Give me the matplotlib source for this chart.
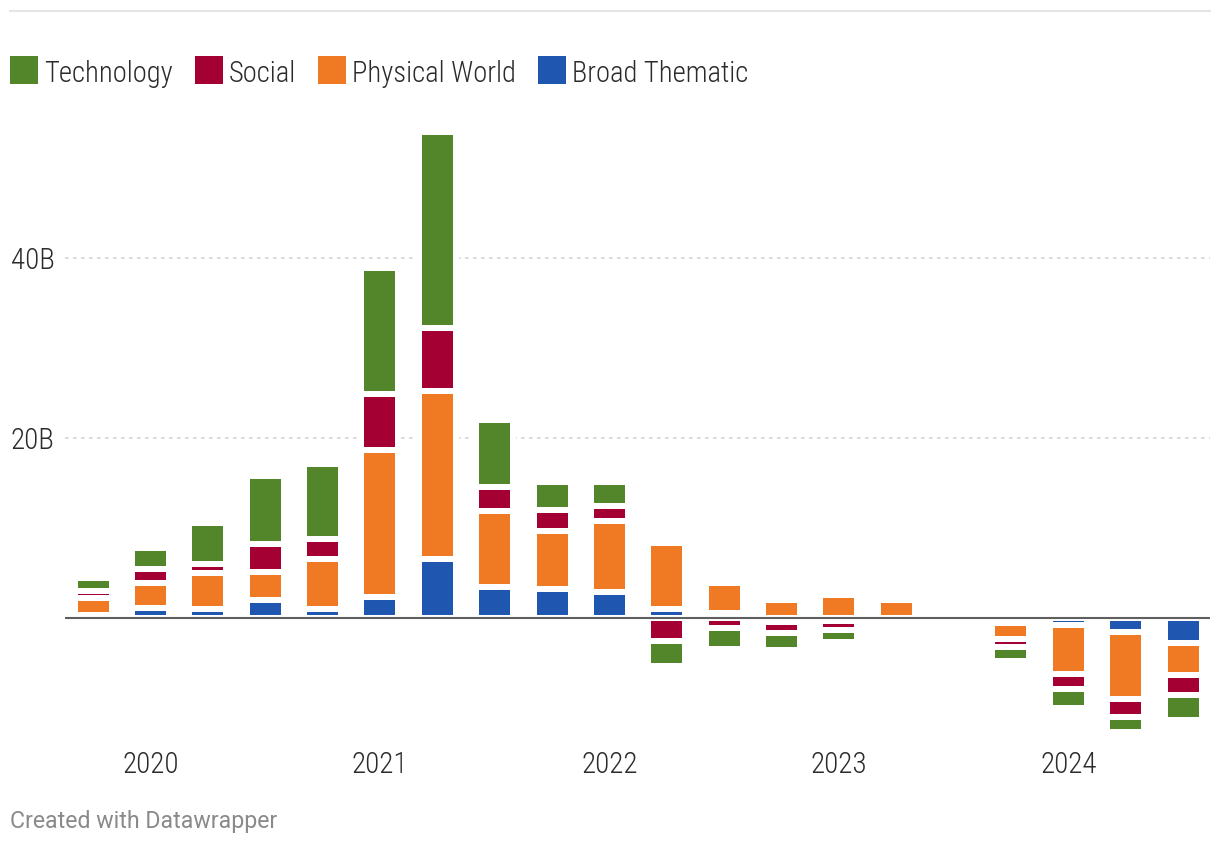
import numpy as np
import matplotlib
matplotlib.use("Agg")
import matplotlib.pyplot as plt
from matplotlib import font_manager
from matplotlib.font_manager import FontProperties
from matplotlib.patches import Rectangle
from matplotlib.lines import Line2D
import matplotlib.transforms as mtransforms

# ---------------- data (billions USD, net flows per quarter) ----------------
quarters = ["2019Q4",
            "2020Q1", "2020Q2", "2020Q3", "2020Q4",
            "2021Q1", "2021Q2", "2021Q3", "2021Q4",
            "2022Q1", "2022Q2", "2022Q3", "2022Q4",
            "2023Q1", "2023Q2", "2023Q3", "2023Q4",
            "2024Q1", "2024Q2", "2024Q3"]
technology = [1.44, 2.33, 4.56, 7.56, 8.33, 14.0, 21.78, 7.44, 3.11, 2.67,
              -2.78, -2.33, -1.89, -1.33, 0.0, 0.0, -1.56, -2.11, -1.67, -2.78]
social = [0.78, 1.56, 1.0, 3.11, 2.22, 6.22, 7.0, 2.67, 2.33, 1.67,
          -2.56, -1.11, -1.22, -1.0, 0.0, 0.0, -0.89, -1.67, -2.0, -2.22]
physical_world = [1.89, 2.78, 4.0, 3.11, 5.56, 16.33, 18.67, 8.44, 6.44, 7.89,
                  7.33, 3.33, 2.0, 2.56, 2.0, 0.0, -1.78, -5.44, -7.44, -3.56]
broad_thematic = [0.33, 1.11, 1.0, 2.0, 1.0, 2.33, 6.56, 3.44, 3.22, 2.89,
                  1.0, 0.56, -0.44, -0.33, 0.0, 0.0, -0.56, -0.78, -1.56, -2.78]

legend_names = ["Technology", "Social", "Physical World", "Broad Thematic"]
stack_order = ["Broad Thematic", "Physical World", "Social", "Technology"]
series = {"Technology": technology, "Social": social,
          "Physical World": physical_world, "Broad Thematic": broad_thematic}
colors = {"Technology": "#53862a", "Social": "#a50034",
          "Physical World": "#f07923", "Broad Thematic": "#1f56b0"}
y_ticks = [20, 40]
y_tick_labels = ["20B", "40B"]
year_labels = ["2020", "2021", "2022", "2023", "2024"]

# ---------------- fonts: look for a condensed (preferably light) face --------
def find_condensed():
    prefs = ["roboto", "liberation", "open", "noto", "dejavu", "lato", "inter"]
    cands = []
    for f in font_manager.fontManager.ttflist:
        fn = f.fname.lower().split("/")[-1]
        nm = f.name.lower()
        stretch = str(f.stretch).lower()
        is_cond = ("condensed" in fn or "narrow" in fn or "condensed" in nm
                   or "narrow" in nm or stretch in ("condensed", "semi-condensed"))
        if not is_cond or f.style != "normal":
            continue
        if any(k in fn for k in ("bold", "italic", "oblique", "thin", "black",
                                 "medium", "semibold", "extralight", "extrabold",
                                 "extra-condensed", "extracondensed", "semicondensed",
                                 "semi-condensed")):
            continue
        rank = len(prefs)
        for k, p in enumerate(prefs):
            if p in nm:
                rank = k
                break
        light = 0 if "light" in fn else 1
        cands.append((rank, light, f.fname))
    cands.sort()
    return cands[0][2] if cands else None

cpath = find_condensed()
def fp(size):
    if cpath:
        return FontProperties(fname=cpath, size=size)
    return FontProperties(family=["Roboto", "DejaVu Sans"], size=size)

TXT = "#2b2b2b"
W, H, DPI = 1220, 858, 100
fig = plt.figure(figsize=(W / DPI, H / DPI), dpi=DPI)
fig.patch.set_facecolor("white")

def px(x, y):
    return x / W, 1 - y / H

ax = fig.add_axes([65 / W, (H - 740) / H, (1210 - 65) / W, (740 - 120) / H])
ax.set_xlim(-0.49, 19.47)
ax.set_ylim(-13.56, 55.33)
ax.axis("off")

for yv in y_ticks:
    ax.add_line(Line2D([0, 1], [yv, yv], transform=ax.get_yaxis_transform(),
                       color="#dedede", lw=1.44, linestyle=(0, (1.9, 2.1)),
                       zorder=0))

x = np.arange(len(quarters))
pos_bottom = np.zeros(len(quarters))
neg_bottom = np.zeros(len(quarters))
for name in stack_order:
    v = np.array(series[name], dtype=float)
    bottoms = np.where(v >= 0, pos_bottom, neg_bottom)
    ax.bar(x, v, bottom=bottoms, width=0.645, color=colors[name],
           edgecolor="white", linewidth=4.32, zorder=2)
    pos_bottom += np.where(v > 0, v, 0)
    neg_bottom += np.where(v < 0, v, 0)

ax.axhline(0, color="#5f5f5f", lw=1.5, zorder=5)

off = mtransforms.ScaledTranslation(0, -11 / DPI, fig.dpi_scale_trans)
ytr = mtransforms.blended_transform_factory(fig.transFigure, ax.transData) + off
for yv, lab in zip(y_ticks, y_tick_labels):
    fig.text(11 / W, yv, lab, transform=ytr, ha="left", va="baseline",
             color=TXT, fontproperties=fp(21))

xtr = mtransforms.blended_transform_factory(ax.transData, fig.transFigure)
for lab in year_labels:
    i = quarters.index(lab + "Q1")
    ax.text(i, (H - 773) / H, lab, transform=xtr, ha="center", va="baseline",
            color=TXT, fontproperties=fp(21))

fig.add_artist(Line2D([10 / W, 1210 / W], [1 - 11 / H, 1 - 11 / H],
                      color="#e6e6e6", lw=1.5))

renderer = fig.canvas.get_renderer()
lx = 10
for name in legend_names:
    fig.add_artist(Rectangle(px(lx, 84), 28 / W, 28 / H, facecolor=colors[name],
                             edgecolor="none", transform=fig.transFigure))
    t = fig.text(*px(lx + 34, 82), name, ha="left", va="baseline",
                 color=TXT, fontproperties=fp(20.6))
    bb = t.get_window_extent(renderer)
    lx = bb.x1 + 22

fig.text(*px(10, 828), "Created with Datawrapper", ha="left", va="baseline",
         fontsize=16.7, color="#8a8a8a", family=["Roboto", "DejaVu Sans"])

fig.savefig("out.png", dpi=DPI, facecolor="white")
